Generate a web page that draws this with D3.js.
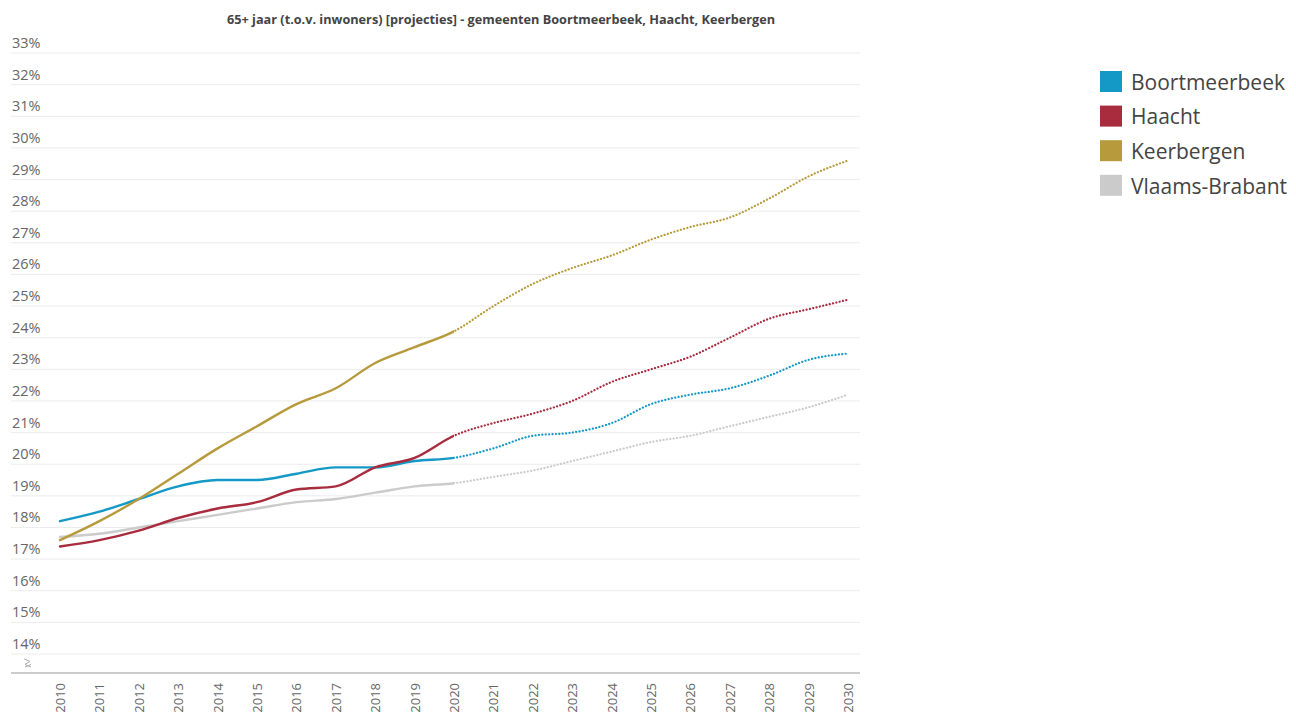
<!DOCTYPE html>
<html>
<head>
<meta charset="utf-8">
<script src="https://cdn.jsdelivr.net/npm/d3@7"></script>
<style>
  html, body { margin: 0; padding: 0; background: #fff; }
  svg { display: block; font-family: "Open Sans", "Noto Sans", sans-serif; }
</style>
</head>
<body>
<svg id="chart" width="1296" height="713"></svg>
<script>
// Years on the x axis; values from 2021 onward are projections
const years = [2010, 2011, 2012, 2013, 2014, 2015, 2016, 2017, 2018, 2019, 2020,
               2021, 2022, 2023, 2024, 2025, 2026, 2027, 2028, 2029, 2030];
const projectionStart = 2020;

// Share of inhabitants aged 65+ (%)
const boortmeerbeek = [18.2, 18.5, 18.9, 19.3, 19.5, 19.5, 19.7, 19.9, 19.9, 20.1, 20.2,
                       20.5, 20.9, 21.0, 21.3, 21.9, 22.2, 22.4, 22.8, 23.3, 23.5];
const haacht        = [17.4, 17.6, 17.9, 18.3, 18.6, 18.8, 19.2, 19.3, 19.9, 20.2, 20.9,
                       21.3, 21.6, 22.0, 22.6, 23.0, 23.4, 24.0, 24.6, 24.9, 25.2];
const keerbergen    = [17.6, 18.2, 18.9, 19.7, 20.5, 21.2, 21.9, 22.4, 23.2, 23.7, 24.2,
                       25.0, 25.7, 26.2, 26.6, 27.1, 27.5, 27.8, 28.4, 29.1, 29.6];
const vlaamsBrabant = [17.7, 17.8, 18.0, 18.2, 18.4, 18.6, 18.8, 18.9, 19.1, 19.3, 19.4,
                       19.6, 19.8, 20.1, 20.4, 20.7, 20.9, 21.2, 21.5, 21.8, 22.2];

const seriesNames  = ["Boortmeerbeek", "Haacht", "Keerbergen", "Vlaams-Brabant"];
const seriesValues = [boortmeerbeek, haacht, keerbergen, vlaamsBrabant];
const seriesColors = ["#1499c6", "#a82b3e", "#b79a3c", "#cbcbcb"];

const yTicks = [14, 15, 16, 17, 18, 19, 20, 21, 22, 23, 24, 25, 26, 27, 28, 29, 30, 31, 32, 33];
const titleText = "65+ jaar (t.o.v. inwoners) [projecties] - gemeenten Boortmeerbeek, Haacht, Keerbergen";

const svg = d3.select("#chart");

const x = d3.scaleLinear().domain([2010, 2030]).range([60, 848]);
const y = d3.scaleLinear().domain([14, 33]).range([654, 53]);
const gridLeft = 11, gridRight = 860;
const baseY = y(13.4);

// Title
svg.append("text")
  .attr("x", 501).attr("y", 24)
  .attr("text-anchor", "middle")
  .attr("font-size", 12.7).attr("font-weight", 700)
  .attr("fill", "#444")
  .text(titleText);

// Horizontal gridlines with labels sitting above them
const grid = svg.append("g");
grid.selectAll("line").data(yTicks).join("line")
  .attr("x1", gridLeft).attr("x2", gridRight)
  .attr("y1", d => y(d)).attr("y2", d => y(d))
  .attr("stroke", "#ececec").attr("stroke-width", 1);
grid.selectAll("text").data(yTicks).join("text")
  .attr("x", 12).attr("y", d => y(d) - 5)
  .attr("font-size", 14.5).attr("fill", "#666")
  .text(d => d + "%");

// Baseline with axis-break mark
svg.append("line")
  .attr("x1", gridLeft).attr("x2", gridRight)
  .attr("y1", baseY).attr("y2", baseY)
  .attr("stroke", "#9a9a9a").attr("stroke-width", 1.2);
svg.append("path")
  .attr("d", `M24,${baseY - 14} l6,2.5 l-5,3 l6,2.5 M25,${baseY - 6} l6,-2.5`)
  .attr("fill", "none").attr("stroke", "#aaa").attr("stroke-width", 1);

// X axis labels (rotated)
const xAxis = d3.axisBottom(x).tickValues(years).tickFormat(d3.format("d")).tickSize(0);
const xg = svg.append("g").attr("transform", `translate(0,${baseY})`).call(xAxis);
xg.select(".domain").remove();
xg.selectAll("text")
  .attr("font-family", "'Open Sans', sans-serif")
  .attr("font-size", 13).attr("fill", "#666")
  .attr("transform", "rotate(-90)")
  .attr("text-anchor", "end")
  .attr("x", -10).attr("y", 0).attr("dy", "0.35em");

// Clip regions: observed (solid) vs. projected (dotted)
const defs = svg.append("defs");
defs.append("clipPath").attr("id", "clip-observed").append("rect")
  .attr("x", 0).attr("y", 0).attr("width", x(projectionStart)).attr("height", 713);
defs.append("clipPath").attr("id", "clip-projected").append("rect")
  .attr("x", x(projectionStart)).attr("y", 0).attr("width", 1296 - x(projectionStart)).attr("height", 713);

const line = d3.line()
  .x((d, i) => x(years[i]))
  .y(d => y(d))
  .curve(d3.curveMonotoneX);

// Draw the province line first so municipalities sit on top
const drawOrder = [3, 0, 1, 2];
const lines = svg.append("g");
drawOrder.forEach(k => {
  const g = lines.append("g");
  g.append("path")
    .attr("d", line(seriesValues[k]))
    .attr("clip-path", "url(#clip-observed)")
    .attr("fill", "none").attr("stroke", seriesColors[k])
    .attr("stroke-width", 2.4).attr("stroke-linecap", "round");
  g.append("path")
    .attr("d", line(seriesValues[k]))
    .attr("clip-path", "url(#clip-projected)")
    .attr("fill", "none").attr("stroke", seriesColors[k])
    .attr("stroke-width", 2.2).attr("stroke-linecap", "round")
    .attr("stroke-dasharray", "0.1 3.3");
});

// Legend
const legend = svg.append("g").attr("transform", "translate(1100,71)");
const items = legend.selectAll("g").data(seriesNames).join("g")
  .attr("transform", (d, i) => `translate(0,${i * 34.6})`);
items.append("rect")
  .attr("width", 22).attr("height", 21)
  .attr("fill", (d, i) => seriesColors[i]);
items.append("text")
  .attr("x", 31).attr("y", 11.5).attr("dy", "0.35em")
  .attr("font-size", 21).attr("fill", "#444")
  .text(d => d);
</script>
</body>
</html>
